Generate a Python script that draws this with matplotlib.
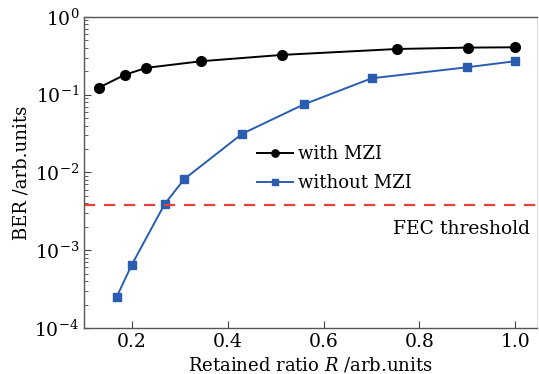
import matplotlib
matplotlib.use('Agg')
import matplotlib.pyplot as plt
from matplotlib.ticker import LogLocator, NullFormatter, FixedLocator

plt.rcParams['font.family'] = 'DejaVu Serif'
plt.rcParams['mathtext.fontset'] = 'dejavuserif'

# with MZI
r_with = [0.131, 0.185, 0.230, 0.345, 0.513, 0.753, 0.901, 1.0]
ber_with = [0.123, 0.180, 0.221, 0.269, 0.324, 0.386, 0.402, 0.406]

# without MZI
r_without = [0.168, 0.199, 0.268, 0.309, 0.430, 0.559, 0.700, 0.900, 1.0]
ber_without = [2.5e-4, 6.4e-4, 3.9e-3, 8.2e-3, 0.0314, 0.075, 0.162, 0.225, 0.269]

fec_threshold = 3.8e-3
x_ticks = [0.2, 0.4, 0.6, 0.8, 1.0]

fig = plt.figure(figsize=(5.39, 3.74), dpi=100)
ax = fig.add_axes([0.156, 0.123, 0.840, 0.832])

ax.plot(r_with, ber_with, color='black', lw=1.4, marker='o', ms=7, label='with MZI')
ax.plot(r_without, ber_without, color='#2a5cb0', lw=1.4, marker='s', ms=6, label='without MZI')
ax.axhline(fec_threshold, color='#e8413c', lw=1.6, ls=(0, (5, 4)))

ax.set_yscale('log')
ax.set_ylim(1e-4, 1)
ax.set_xlim(0.1, 1.045)
ax.xaxis.set_major_locator(FixedLocator(x_ticks))
ax.set_xticklabels(['0.2', '0.4', '0.6', '0.8', '1.0'])
ax.yaxis.set_major_locator(LogLocator(base=10, numticks=10))
ax.yaxis.set_minor_locator(LogLocator(base=10, subs=range(2, 10), numticks=10))
ax.yaxis.set_minor_formatter(NullFormatter())

ax.tick_params(axis='both', which='both', direction='in', labelsize=13.5, colors='#444444', labelcolor='black')
ax.tick_params(axis='both', which='major', length=5, width=0.8)
ax.tick_params(axis='y', which='minor', length=3, width=0.6)
ax.tick_params(top=False, right=False)

for side in ['left', 'bottom', 'top']:
    ax.spines[side].set_color('#555555')
    ax.spines[side].set_linewidth(1.0)
ax.spines['right'].set_color('#dddddd')

ax.set_xlabel('Retained ratio $R$ /arb.units', fontsize=13, labelpad=3)
ax.set_ylabel('BER /arb.units', fontsize=13, labelpad=3)

ax.text(1.03, 1.9e-3, 'FEC threshold', fontsize=13.5, ha='right', va='center')

ax.legend(loc='upper left', bbox_to_anchor=(0.345, 0.64), frameon=False, fontsize=13,
          handlelength=2.0, handletextpad=0.3, labelspacing=0.6, markerscale=0.75)

fig.savefig('out.png', dpi=100)
